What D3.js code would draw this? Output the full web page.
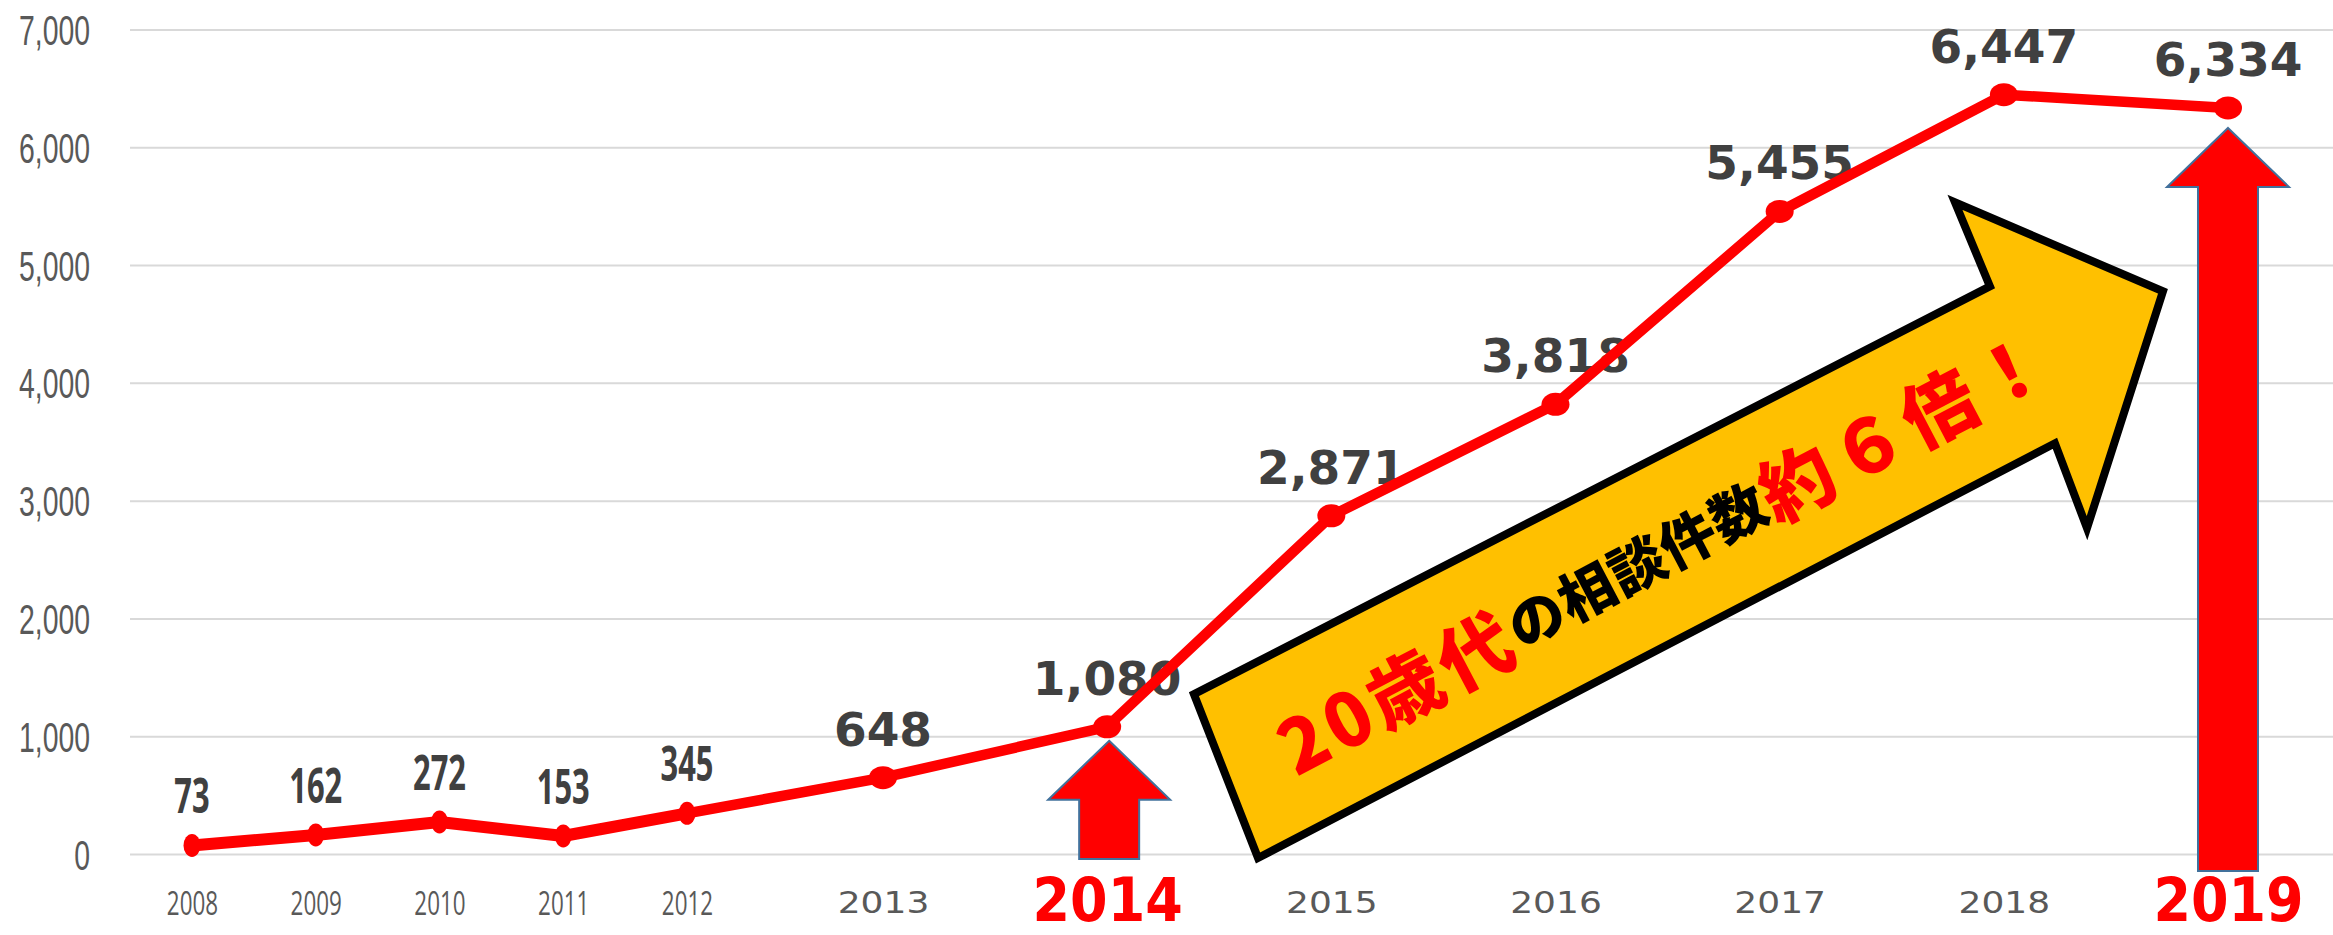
<!DOCTYPE html>
<html>
<head>
<meta charset="utf-8">
<script src="https://cdn.jsdelivr.net/npm/d3@7"></script>
<style>
  body { margin: 0; background: #fff; }
  svg { display: block; }
</style>
</head>
<body>
<svg width="2333" height="935"></svg>
<script>
// data
var years = [2008, 2009, 2010, 2011, 2012, 2013, 2014, 2015, 2016, 2017, 2018, 2019];
var counts = [73, 162, 272, 153, 345, 648, 1080, 2871, 3818, 5455, 6447, 6334];
var yTicks = [0, 1000, 2000, 3000, 4000, 5000, 6000, 7000];
var highlightYears = [2014, 2019];
var calloutParts = ['20歳代', 'の相談件数', '約６倍！'];

var W = 2333, H = 935;
var svg = d3.select('svg');
var fmt = d3.format(',');

// the first five years are squeezed together in the original
var x = d3.scaleLinear()
    .domain([2008, 2012, 2013, 2019])
    .range([192, 687, 883, 2228]);
var y = d3.scaleLinear()
    .domain([0, 7000])
    .range([854, 29.5]);

function isNarrow(year) { return year <= 2012; }
function isHighlight(year) { return highlightYears.indexOf(year) >= 0; }

// y axis + gridlines
var yAxis = svg.append('g')
    .attr('transform', 'translate(130,0)')
    .call(d3.axisLeft(y).tickValues(yTicks).tickFormat(fmt).tickSize(-(W - 130)));
yAxis.select('.domain').remove();
yAxis.selectAll('.tick line')
    .attr('stroke', '#d9d9d9')
    .attr('stroke-width', 2);
yAxis.selectAll('.tick text')
    .attr('x', 0)
    .attr('dy', 15)
    .attr('transform', 'translate(-40,0) scale(0.66,1)')
    .attr('fill', '#595959')
    .style('font-family', '"Liberation Sans", sans-serif')
    .style('font-size', '43px');

// x axis labels
var xAxis = svg.append('g')
    .call(d3.axisBottom(x).tickValues(years).tickFormat(d3.format('d')).tickSize(0));
xAxis.select('.domain').remove();
xAxis.selectAll('.tick text')
    .attr('y', 0)
    .attr('dy', 0)
    .attr('transform', function(d) {
        if (isHighlight(d)) return 'translate(0,921) scale(0.9,1)';
        if (isNarrow(d)) return 'translate(0,915) scale(0.68,1)';
        return 'translate(0,913) scale(1.2,1)';
    })
    .attr('fill', function(d) { return isHighlight(d) ? '#ff0000' : '#595959'; })
    .style('font-family', function(d) {
        return isNarrow(d) ? '"Open Sans", sans-serif' : '"DejaVu Sans", sans-serif';
    })
    .style('font-weight', function(d) { return isHighlight(d) ? 'bold' : 'normal'; })
    .style('font-size', function(d) {
        if (isHighlight(d)) return '60px';
        return isNarrow(d) ? '33px' : '30px';
    });

// value labels (drawn under the line, as in the original)
svg.append('g').selectAll('text')
    .data(years)
    .enter()
    .append('text')
    .attr('transform', function(d, i) {
        var t = 'translate(' + x(d) + ',' + (y(counts[i]) - 32) + ')';
        return isNarrow(d) ? t + ' scale(0.63,1)' : t;
    })
    .attr('text-anchor', 'middle')
    .attr('fill', '#404040')
    .style('font-family', function(d) {
        return isNarrow(d) ? '"Open Sans", sans-serif' : '"DejaVu Sans", sans-serif';
    })
    .style('font-weight', 'bold')
    .style('font-size', function(d) { return isNarrow(d) ? '49px' : '47px'; })
    .text(function(d, i) { return fmt(counts[i]); });

// line
var pts = years.map(function(d, i) { return [d, counts[i]]; });
var line = d3.line()
    .x(function(d) { return x(d[0]); })
    .y(function(d) { return y(d[1]); });

svg.append('path')
    .datum(pts.slice(0, 5))
    .attr('d', line)
    .attr('fill', 'none')
    .attr('stroke', '#ff0000')
    .attr('stroke-width', 12)
    .attr('stroke-linejoin', 'round');
svg.append('path')
    .datum(pts.slice(4))
    .attr('d', line)
    .attr('fill', 'none')
    .attr('stroke', '#ff0000')
    .attr('stroke-width', 10.5)
    .attr('stroke-linejoin', 'round');

svg.append('g').selectAll('ellipse')
    .data(pts)
    .enter()
    .append('ellipse')
    .attr('cx', function(d) { return x(d[0]); })
    .attr('cy', function(d) { return y(d[1]); })
    .attr('rx', function(d) { return isNarrow(d[0]) ? 8.5 : 14; })
    .attr('ry', 11.5)
    .attr('fill', '#ff0000');

// red up arrows under the highlighted years
var arrowStyle = {2014: {top: 14, bottom: 5, dx: 2}, 2019: {top: 20, bottom: 17, dx: 0}};
function upArrow(cx, top, bottom) {
    var hw = 61, hh = 59, sw = 30;
    return 'M' + cx + ',' + top +
        'L' + (cx + hw) + ',' + (top + hh) +
        'L' + (cx + sw) + ',' + (top + hh) +
        'L' + (cx + sw) + ',' + bottom +
        'L' + (cx - sw) + ',' + bottom +
        'L' + (cx - sw) + ',' + (top + hh) +
        'L' + (cx - hw) + ',' + (top + hh) + 'Z';
}
svg.append('g').selectAll('path')
    .data(highlightYears)
    .enter()
    .append('path')
    .attr('d', function(d) {
        var s = arrowStyle[d];
        var v = counts[years.indexOf(d)];
        return upArrow(x(d) + s.dx, y(v) + s.top, y(0) + s.bottom);
    })
    .attr('fill', '#ff0000')
    .attr('stroke', '#41719c')
    .attr('stroke-width', 2);

// big yellow trend arrow, outline given in chart units (year, count)
var calloutShape = [
    [2014.673, -34], [2014.387, 1357], [2017.938, 4819], [2017.782, 5532],
    [2018.710, 4777], [2018.371, 2766], [2018.228, 3487]
];
svg.append('path')
    .attr('d', 'M' + calloutShape.map(function(p) { return [x(p[0]), y(p[1])]; }).join('L') + 'Z')
    .attr('fill', '#ffc000')
    .attr('stroke', '#000')
    .attr('stroke-width', 8)
    .attr('stroke-linejoin', 'miter');

var callout = svg.append('text')
    .attr('transform', 'translate(1281,748) rotate(-27.7)')
    .attr('dominant-baseline', 'central')
    .style('font-family', '"Noto Sans CJK JP", sans-serif')
    .style('font-weight', 900);
callout.append('tspan')
    .attr('fill', '#ff0000')
    .style('font-size', '74px')
    .style('letter-spacing', '5px')
    .text(calloutParts[0]);
callout.append('tspan')
    .attr('fill', '#000')
    .style('font-size', '56px')
    .style('letter-spacing', '1px')
    .text(calloutParts[1]);
callout.append('tspan')
    .attr('fill', '#ff0000')
    .style('font-size', '74px')
    .style('letter-spacing', '6px')
    .text(calloutParts[2]);
</script>
</body>
</html>
